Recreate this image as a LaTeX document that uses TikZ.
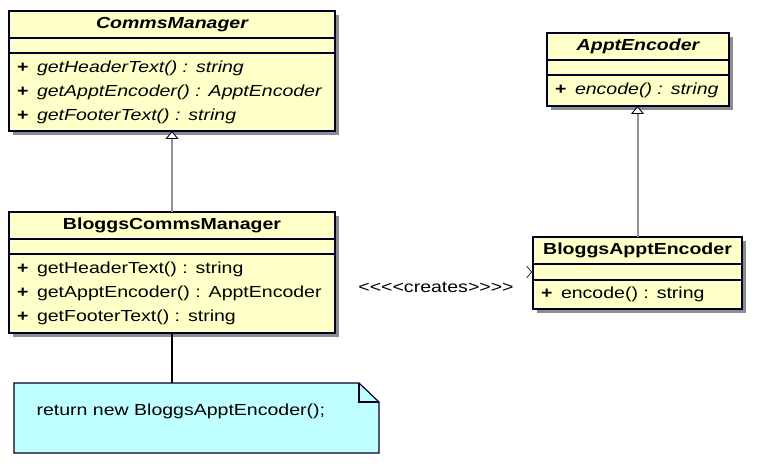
\documentclass[tikz,border=0pt]{standalone}
\usepackage{fontspec}
\setmainfont{Liberation Sans}[FakeStretch=1.22]
\usetikzlibrary{positioning,arrows.meta,backgrounds}

\definecolor{classfill}{RGB}{255,255,200}
\definecolor{notefill}{RGB}{192,255,255}
\definecolor{edgeblue}{RGB}{0,0,40}

\newcommand{\op}[1]{\makebox[20pt][l]{\textbf{+}}#1}
\newcommand{\stereo}[1]{<\kern0pt<\kern0pt<\kern0pt<#1>\kern0pt>\kern0pt>\kern0pt>}

\begin{document}
\begin{tikzpicture}[x=1pt,y=-1pt,
  every node/.style={font=\fontsize{16}{24}\selectfont},
  part/.style={draw=edgeblue,line width=1.2pt,fill=classfill,inner sep=0pt,outer sep=0pt,anchor=north west},
  titlepart/.style={part,minimum width=#1,minimum height=27pt,font=\fontsize{16}{24}\selectfont\bfseries},
  attrpart/.style={part,minimum width=#1,minimum height=15pt},
  opspart/.style={part,align=left,inner xsep=8pt,text width=#1},
  shadowbox/.style={fill=gray!90},
  inherit/.style={draw=gray!85,line width=2pt,
    -{Triangle[open,length=8pt,width=13pt,line width=0.9pt,color=edgeblue,fill=white]}},
  creates/.style={draw=white,line width=0.5pt,shorten >=1pt,
    -{Straight Barb[length=5pt,width=12pt,line width=0.6pt,color=black]}},
  notelink/.style={draw=black,line width=2pt}
]
  \useasboundingbox (0,0) rectangle (760,465);

  % abstract factory
  \node[titlepart=326pt] (cmt) at (9,11) {\itshape CommsManager};
  \node[attrpart=326pt] (cma) at (cmt.south west) {};
  \node[opspart=310pt,minimum height=78pt] (cmo) at (cma.south west)
    {\op{\textit{getHeaderText() : string}}\\ \op{\textit{getApptEncoder() : ApptEncoder}}\\ \op{\textit{getFooterText() : string}}};

  % concrete factory
  \node[titlepart=326pt] (bcmt) at (9,212) {BloggsCommsManager};
  \node[attrpart=326pt] (bcma) at (bcmt.south west) {};
  \node[opspart=310pt,minimum height=79pt] (bcmo) at (bcma.south west)
    {\op{getHeaderText() : string}\\ \op{getApptEncoder() : ApptEncoder}\\ \op{getFooterText() : string}};

  % abstract product
  \node[titlepart=182pt] (aet) at (547,33) {\itshape ApptEncoder};
  \node[attrpart=182pt] (aea) at (aet.south west) {};
  \node[opspart=166pt,minimum height=31pt] (aeo) at (aea.south west) {\op{\textit{encode() : string}}};

  % concrete product
  \node[titlepart=209pt] (baet) at (533,237) {BloggsApptEncoder};
  \node[attrpart=209pt,minimum height=16pt] (baea) at (baet.south west) {};
  \node[opspart=193pt,minimum height=29pt] (baeo) at (baea.south west) {\op{encode() : string}};

  % shadows
  \begin{scope}[on background layer]
    \foreach \top/\bot in {cmt/cmo,bcmt/bcmo,aet/aeo,baet/baeo}
      \fill[shadowbox] ([shift={(4pt,-4pt)}]\top.north west) rectangle ([shift={(4pt,-4pt)}]\bot.south east);
  \end{scope}

  \draw[inherit] (bcmt.north) -- (cmo.south);
  \draw[inherit] (baet.north) -- (aeo.south -| baet.north);

  % dependency
  \node (createslbl) at (436,287) {\stereo{creates}};
  \draw[creates] (createslbl.east |- baea.west) -- (baea.west);

  % note
  \path (14,383) coordinate (nnw) (379,453) coordinate (nse);
  \draw[fill=notefill,draw=edgeblue,line width=1.2pt]
    (nnw) -- ([xshift=-20pt]nnw -| nse) -- ([yshift=-19pt]nnw -| nse) -- (nse) -- (nnw |- nse) -- cycle;
  \draw[draw=edgeblue,line width=1.2pt] ([xshift=-20pt]nnw -| nse) |- ([yshift=-19pt]nnw -| nse);
  \node[anchor=west] (notetext) at ([xshift=19pt,yshift=-28pt]nnw) {return new BloggsApptEncoder();};
  \draw[notelink] (bcmo.south) -- (bcmo.south |- nnw);
\end{tikzpicture}
\end{document}
